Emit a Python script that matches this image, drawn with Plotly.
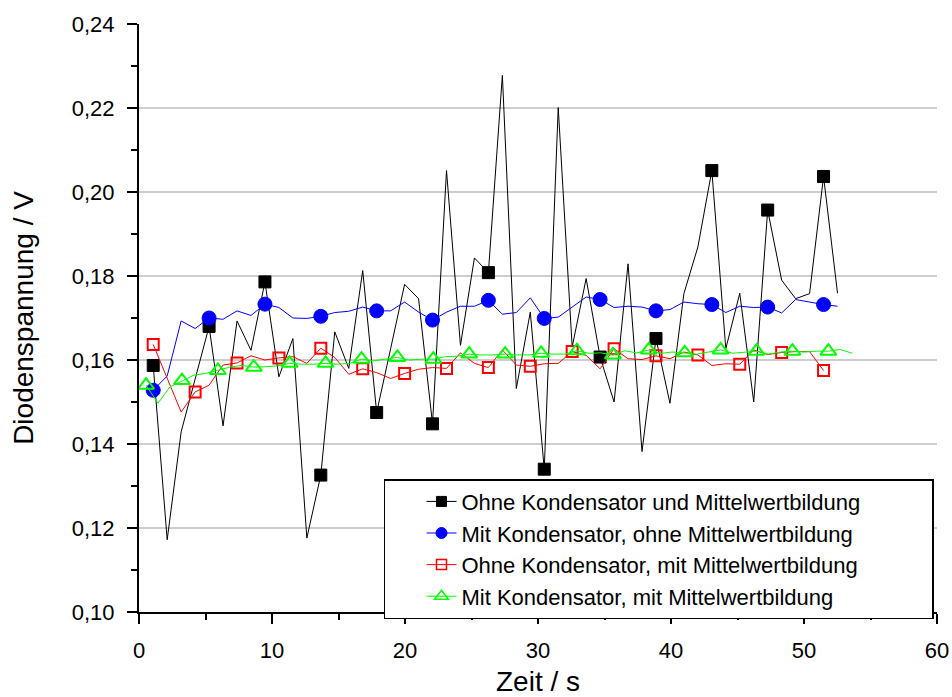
import plotly.graph_objects as go

# Measured diode voltage over time for four circuit variants
t_main = [1.07, 2.12, 3.17, 4.22, 5.27, 6.32, 7.37, 8.42, 9.47, 10.52,
          11.57, 12.62, 13.67, 14.72, 15.77, 16.82, 17.87, 18.92, 19.97, 21.02,
          22.07, 23.12, 24.17, 25.22, 26.27, 27.32, 28.37, 29.42, 30.47, 31.52,
          32.57, 33.62, 34.67, 35.72, 36.77, 37.82, 38.87, 39.92, 40.97, 42.02,
          43.07, 44.12, 45.17, 46.22, 47.27, 48.32, 49.37, 50.42, 51.47, 52.52]

t_green = [0.53, 1.43, 2.33, 3.23, 4.13, 5.03, 5.93, 6.83, 7.73, 8.63,
           9.53, 10.43, 11.33, 12.23, 13.13, 14.03, 14.93, 15.83, 16.73, 17.63,
           18.53, 19.43, 20.33, 21.23, 22.13, 23.03, 23.93, 24.83, 25.73, 26.63,
           27.53, 28.43, 29.33, 30.23, 31.13, 32.03, 32.93, 33.83, 34.73, 35.63,
           36.53, 37.43, 38.33, 39.23, 40.13, 41.03, 41.93, 42.83, 43.73, 44.63,
           45.53, 46.43, 47.33, 48.23, 49.13, 50.03, 50.93, 51.83, 52.73, 53.63]

u_ohne_ohne = [0.1587, 0.1172, 0.1429, 0.1555, 0.1680, 0.1443, 0.1693, 0.1623, 0.1786, 0.1560,
               0.1651, 0.1176, 0.1326, 0.1667, 0.1580, 0.1813, 0.1475, 0.1627, 0.1780, 0.1746,
               0.1448, 0.2051, 0.1635, 0.1843, 0.1808, 0.2278, 0.1532, 0.1714, 0.1340, 0.2201,
               0.1631, 0.1794, 0.1607, 0.1500, 0.1829, 0.1382, 0.1651, 0.1497, 0.1758, 0.1869,
               0.2051, 0.1627, 0.1759, 0.1500, 0.1957, 0.1790, 0.1746, 0.1758, 0.2037, 0.1759]

u_mit_ohne = [0.1528, 0.1562, 0.1693, 0.1675, 0.1700, 0.1697, 0.1717, 0.1706, 0.1733, 0.1725,
              0.1700, 0.1699, 0.1704, 0.1713, 0.1716, 0.1726, 0.1717, 0.1717, 0.1738, 0.1714,
              0.1695, 0.1714, 0.1728, 0.1728, 0.1742, 0.1709, 0.1713, 0.1748, 0.1699, 0.1702,
              0.1726, 0.1750, 0.1744, 0.1725, 0.1728, 0.1726, 0.1717, 0.1720, 0.1738, 0.1734,
              0.1732, 0.1713, 0.1728, 0.1725, 0.1726, 0.1712, 0.1744, 0.1738, 0.1732, 0.1728]

u_ohne_mit = [0.1637, 0.1558, 0.1476, 0.1524, 0.1540, 0.1588, 0.1593, 0.1610, 0.1600, 0.1605,
              0.1608, 0.1592, 0.1628, 0.1606, 0.1566, 0.1579, 0.1570, 0.1556, 0.1568, 0.1578,
              0.1582, 0.1580, 0.1617, 0.1592, 0.1582, 0.1624, 0.1588, 0.1585, 0.1591, 0.1592,
              0.1620, 0.1611, 0.1579, 0.1627, 0.1603, 0.1601, 0.1610, 0.1603, 0.1619, 0.1612,
              0.1587, 0.1591, 0.1590, 0.1624, 0.1613, 0.1618, 0.1620, 0.1620, 0.1575]

u_mit_mit = [0.1540, 0.1497, 0.1536, 0.1551, 0.1564, 0.1568, 0.1575, 0.1583, 0.1587, 0.1583,
             0.1584, 0.1586, 0.1592, 0.1590, 0.1590, 0.1592, 0.1590, 0.1592, 0.1602, 0.1598,
             0.1602, 0.1606, 0.1600, 0.1602, 0.1602, 0.1608, 0.1609, 0.1614, 0.1612, 0.1612,
             0.1614, 0.1612, 0.1612, 0.1616, 0.1614, 0.1614, 0.1622, 0.1616, 0.1617, 0.1612,
             0.1622, 0.1617, 0.1624, 0.1616, 0.1619, 0.1617, 0.1614, 0.1619, 0.1624, 0.1616,
             0.1619, 0.1621, 0.1614, 0.1619, 0.1621, 0.1619, 0.1621, 0.1621, 0.1625, 0.1616]

# horizontal grid only at the inner major ticks
y_grid = [0.12, 0.14, 0.16, 0.18, 0.20, 0.22]
x_range = [0, 60]

series = [
    # name, x, y, colour, symbol, marker size, marker step, legend marker size
    ("Ohne Kondensator und Mittelwertbildung", t_main, u_ohne_ohne, "#000000", "square", 12, 4, 10),
    ("Mit Kondensator, ohne Mittelwertbildung", t_main, u_mit_ohne, "#0000ff", "circle", 14, 4, 11),
    ("Ohne Kondensator, mit Mittelwertbildung", t_main[:len(u_ohne_mit)], u_ohne_mit, "#ff0000", "square-open", 11, 3, 10),
    ("Mit Kondensator, mit Mittelwertbildung", t_green, u_mit_mit, "#00ff00", "triangle-up-open", 14, 3, 12),
]

FONT = "Liberation Sans, Arial, sans-serif"

fig = go.Figure()

# grid lines first so every curve sits on top of them
for v in y_grid:
    fig.add_trace(go.Scatter(x=x_range, y=[v, v], mode="lines",
                             line=dict(color="#bcbcbc", width=1.5),
                             showlegend=False, hoverinfo="skip"))

for name, x, y, col, sym, ms, step, lms in series:
    mline = dict(color=col, width=2 if "open" in sym else 1)
    # full-resolution curve
    fig.add_trace(go.Scatter(x=x, y=y, mode="lines", line=dict(color=col, width=1),
                             showlegend=False, hoverinfo="skip"))
    # symbols on every n-th sample
    fig.add_trace(go.Scatter(x=x[::step], y=y[::step], mode="markers",
                             marker=dict(symbol=sym, size=ms, color=col, line=mline),
                             showlegend=False))

# legend entries (line + symbol)
for name, x, y, col, sym, ms, step, lms in series:
    mline = dict(color=col, width=1.5 if "open" in sym else 1)
    fig.add_trace(go.Scatter(x=[None], y=[None], mode="lines+markers", name=name,
                             line=dict(color=col, width=1),
                             marker=dict(symbol=sym, size=lms, color=col, line=mline)))

axis_common = dict(
    showline=True, linecolor="black", linewidth=2,
    ticks="outside", ticklen=10, tickwidth=2, tickcolor="black",
    tickfont=dict(family=FONT, size=22, color="black"),
    zeroline=False, showgrid=False, automargin=False,
)

fig.update_layout(
    width=952, height=697,
    margin=dict(l=139, r=15, t=24, b=85),
    plot_bgcolor="white", paper_bgcolor="white",
    separators=",.",
    font=dict(family=FONT, color="black"),
    xaxis=dict(range=x_range, tick0=0, dtick=10,
               minor=dict(dtick=5, ticks="outside", ticklen=6, tickwidth=2, tickcolor="black"),
               ticklabelstandoff=8,
               **axis_common),
    yaxis=dict(range=[0.10, 0.24], tick0=0.10, dtick=0.02, tickformat=".2f",
               minor=dict(dtick=0.01, ticks="outside", ticklen=6, tickwidth=2, tickcolor="black"),
               title=dict(text="Diodenspannung / V", font=dict(family=FONT, size=28), standoff=30),
               ticklabelstandoff=8,
               **axis_common),
    annotations=[dict(text="Zeit / s", xref="paper", yref="paper", x=0.5, y=-0.118,
                      xanchor="center", yanchor="middle", showarrow=False,
                      font=dict(family=FONT, size=28, color="black"))],
    legend=dict(orientation="h", x=0.307, y=0.226, xanchor="left", yanchor="top",
                entrywidth=466, entrywidthmode="pixels", indentation=36,
                bgcolor="white", bordercolor="black", borderwidth=1.5,
                font=dict(family=FONT, size=22, color="black")),
)

fig.write_html("out.html")
